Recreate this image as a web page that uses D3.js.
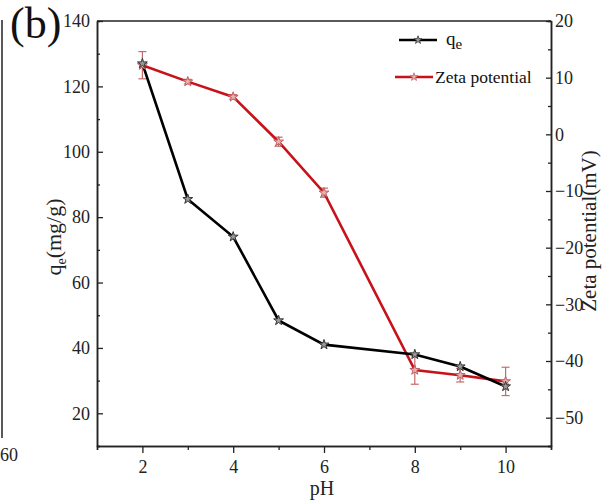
<!DOCTYPE html>
<html><head><meta charset="utf-8">
<script src="https://cdn.jsdelivr.net/npm/d3@7"></script>
<style>
body{margin:0;background:#fff;}
svg{display:block;}
svg text{font-family:"Liberation Serif","Times New Roman",serif !important;}
</style></head>
<body>
<svg id="c" width="602" height="502"></svg>
<script>
const pH = [2, 3, 4, 5, 6, 8, 9, 10];
const qe = [127, 85.5, 74, 48.4, 41, 38, 34.3, 28.2];
const zeta = [12.2, 9.3, 6.6, -1.3, -10.3, -41.6, -42.5, -43.6];
const zetaErr = [2.4, 0.4, 0.4, 0.8, 0.8, 2.5, 1.2, 2.5];
const xTicks = [2, 4, 6, 8, 10];
const leftTicks = [20, 40, 60, 80, 100, 120, 140];
const rightTicks = [-50, -40, -30, -20, -10, 0, 10, 20];
const legendLabels = ["q", "Zeta potential"];

const svg = d3.select("#c");
const L = 97, R = 551, T = 21, B = 446;
const x = d3.scaleLinear().domain([1, 11]).range([L, R]);
const yL = d3.scaleLinear().domain([10, 140]).range([B, T]);
const yR = d3.scaleLinear().domain([-55, 20]).range([B, T]);

const axisColor = "#222";
const fs = 18;

// neighbour panel fragment
svg.append("line").attr("x1", 2).attr("x2", 2).attr("y1", 20).attr("y2", 438)
  .attr("stroke", axisColor).attr("stroke-width", 1.5);
svg.append("text").attr("x", 0).attr("y", 461).attr("font-size", fs).attr("fill", "#222").text("60");

// top border
svg.append("line").attr("x1", L).attr("x2", R).attr("y1", T).attr("y2", T)
  .attr("stroke", axisColor).attr("stroke-width", 1.5);

function styleAxis(g) {
  g.attr("font-family", null).attr("font-size", null);
  g.select(".domain").attr("stroke", axisColor).attr("stroke-width", 1.5);
  g.selectAll(".tick line").attr("stroke", axisColor).attr("stroke-width", 1.3);
  g.selectAll("text").attr("font-size", fs).attr("fill", "#222");
}

// minor ticks
const xMinor = [1, 3, 5, 7, 9, 11];
const lMinor = [10, 30, 50, 70, 90, 110, 130];
const rMinor = [-55, -45, -35, -25, -15, -5, 5, 15];

svg.append("g").attr("transform", `translate(0,${B})`)
  .call(d3.axisBottom(x).tickValues(xMinor).tickSize(4).tickFormat(""))
  .call(styleAxis);
svg.append("g").attr("transform", `translate(${L},0)`)
  .call(d3.axisLeft(yL).tickValues(lMinor).tickSize(-3).tickFormat(""))
  .call(styleAxis);
svg.append("g").attr("transform", `translate(${R},0)`)
  .call(d3.axisRight(yR).tickValues(rMinor).tickSize(-3).tickFormat(""))
  .call(styleAxis);

svg.append("g").attr("transform", `translate(0,${B})`)
  .call(d3.axisBottom(x).tickValues(xTicks).tickSize(7).tickSizeOuter(0).tickPadding(7).tickFormat(d3.format("d")))
  .call(styleAxis);
svg.append("g").attr("transform", `translate(${L},0)`)
  .call(d3.axisLeft(yL).tickValues(leftTicks).tickSize(-6).tickSizeOuter(0).tickPadding(7).tickFormat(d3.format("d")))
  .call(styleAxis);
svg.append("g").attr("transform", `translate(${R},0)`)
  .call(d3.axisRight(yR).tickValues(rightTicks).tickSize(-5).tickSizeOuter(0).tickPadding(4).tickFormat(d3.format("d")))
  .call(styleAxis);

// axis titles
svg.append("text").attr("x", 322).attr("y", 495).attr("text-anchor", "middle")
  .attr("font-size", 20).attr("fill", "#222").text("pH");

const lt = svg.append("text").attr("transform", `translate(61,237) rotate(-90)`)
  .attr("text-anchor", "middle").attr("font-size", 22).attr("fill", "#222");
lt.append("tspan").text("q");
lt.append("tspan").attr("font-size", 14).attr("dy", 5).text("e");
lt.append("tspan").attr("dy", -5).text("(mg/g)");

svg.append("text").attr("transform", `translate(596,231) rotate(-90)`)
  .attr("text-anchor", "middle").attr("font-size", 21).attr("fill", "#222")
  .text("Zeta potential(mV)");

// (b)
svg.append("text").attr("x", 10).attr("y", 38).attr("font-size", 44).attr("fill", "#111").text("(b)");

// error bars for zeta
const errColor = "#c46a6a";
const eb = svg.append("g");
pH.forEach((p, i) => {
  const cx = x(p), y1 = yR(zeta[i] + zetaErr[i]), y2 = yR(zeta[i] - zetaErr[i]);
  eb.append("line").attr("x1", cx).attr("x2", cx).attr("y1", y1).attr("y2", y2)
    .attr("stroke", errColor).attr("stroke-width", 1.2);
  [y1, y2].forEach(yy => eb.append("line").attr("x1", cx - 4).attr("x2", cx + 4)
    .attr("y1", yy).attr("y2", yy).attr("stroke", errColor).attr("stroke-width", 1.2));
});

const star = d3.symbol().type(d3.symbolStar).size(30);

// zeta line
svg.append("path").datum(pH.map((p, i) => [p, zeta[i]]))
  .attr("fill", "none").attr("stroke", "#c8121b").attr("stroke-width", 2.6)
  .attr("d", d3.line().x(d => x(d[0])).y(d => yR(d[1])));

// qe line
svg.append("path").datum(pH.map((p, i) => [p, qe[i]]))
  .attr("fill", "none").attr("stroke", "#000").attr("stroke-width", 2.6)
  .attr("d", d3.line().x(d => x(d[0])).y(d => yL(d[1])));

svg.append("g").selectAll("path").data(pH.map((p, i) => [p, zeta[i]])).join("path")
  .attr("transform", d => `translate(${x(d[0])},${yR(d[1])})`)
  .attr("d", star).attr("fill", "#e8b0b0").attr("stroke", "#c06060").attr("stroke-width", 1);

svg.append("g").selectAll("path").data(pH.map((p, i) => [p, qe[i]])).join("path")
  .attr("transform", d => `translate(${x(d[0])},${yL(d[1])})`)
  .attr("d", star).attr("fill", "#999").attr("stroke", "#333").attr("stroke-width", 1);

// legend
const lg = svg.append("g");
lg.append("line").attr("x1", 399).attr("x2", 437).attr("y1", 40).attr("y2", 40)
  .attr("stroke", "#000").attr("stroke-width", 2.6);
lg.append("path").attr("transform", "translate(418,40)").attr("d", d3.symbol().type(d3.symbolStar).size(20))
  .attr("fill", "#999").attr("stroke", "#333").attr("stroke-width", 0.8);
const t1 = lg.append("text").attr("x", 446).attr("y", 45).attr("font-size", 19).attr("fill", "#111");
t1.append("tspan").text(legendLabels[0]);
t1.append("tspan").attr("font-size", 15).attr("dy", 4).text("e");

lg.append("line").attr("x1", 395).attr("x2", 433).attr("y1", 77).attr("y2", 77)
  .attr("stroke", "#c8121b").attr("stroke-width", 2.6);
lg.append("path").attr("transform", "translate(414,77)").attr("d", d3.symbol().type(d3.symbolStar).size(20))
  .attr("fill", "#e8b0b0").attr("stroke", "#c06060").attr("stroke-width", 0.8);
lg.append("text").attr("x", 435).attr("y", 83).attr("font-size", 17.5).attr("fill", "#111").text(legendLabels[1]);
</script>
</body></html>
